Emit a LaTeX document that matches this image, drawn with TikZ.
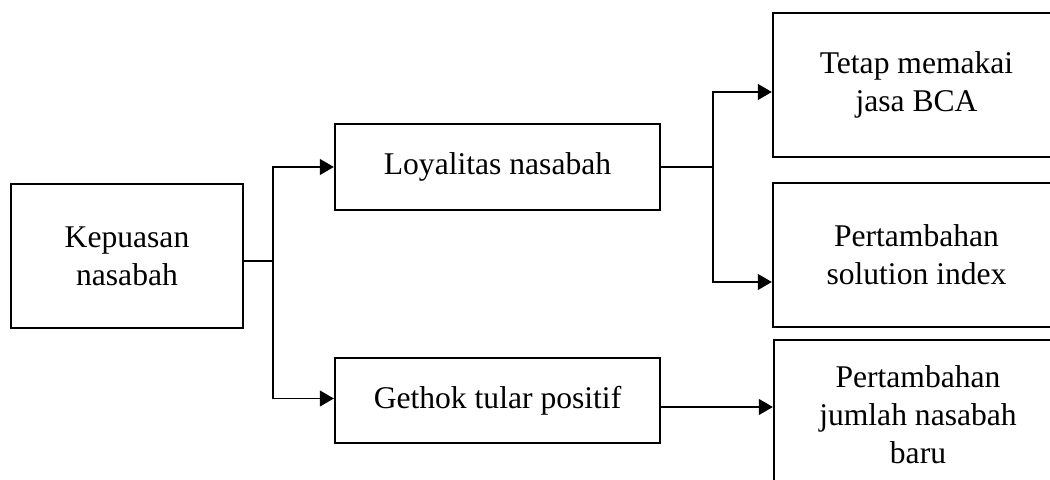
\documentclass[tikz,border=0pt]{standalone}
\usepackage{fontspec}
\setmainfont{Liberation Serif}
\usetikzlibrary{arrows.meta}
\begin{document}
\begin{tikzpicture}[x=0.5pt, y=-0.5pt,
    box/.style={draw, line width=1.2pt, align=center, inner sep=0pt,
        font=\fontsize{15.8}{19}\selectfont},
    arr/.style={-{Triangle[length=7pt, width=8pt]}, line width=0.6pt},
    link/.style={line width=0.6pt}]
        % -------- 畫面大小 --------
        \path[use as bounding box, clip] (0,0) rectangle (1050,480);

        % -------- 左邊 --------
        \node[box, minimum width=116pt, minimum height=72pt] (kepuasan) at (127,256) {Kepuasan\\nasabah};

        % -------- 中間 --------
        \node[box, minimum width=162.5pt, minimum height=43pt] (loyalitas) at (497.5,167) {Loyalitas nasabah};
        \node[box, minimum width=162.5pt, minimum height=42.5pt] (gethok) at (497.5,400.5) {Gethok tular positif};

        % -------- 右邊 (超出畫面) --------
        \node[box, minimum width=143.5pt, minimum height=72pt] (tetap) at (916.5,85) {Tetap memakai\\jasa BCA};
        \node[box, minimum width=143.5pt, minimum height=72pt] (solusi) at (916.5,255) {Pertambahan\\solution index};
        \node[box, minimum width=144pt, minimum height=75pt] (jumlah) at (918,415) {Pertambahan\\jumlah nasabah\\baru};

        % 分岔點
        \coordinate (split1) at (273,261);
        \coordinate (split2) at (713,167);

        % Kepuasan -> Loyalitas / Gethok
        \draw[link] ([yshift=-2.5pt]kepuasan.east) -- (split1);
        \draw[arr] (split1) |- (loyalitas.west);
        \draw[arr] (split1) |- ([yshift=1pt]gethok.west);

        % Loyalitas -> Tetap / Solusi
        \draw[link] (loyalitas.east) -- (split2);
        \draw[arr] (split2) |- ([yshift=-3.5pt]tetap.west);
        \draw[arr] (split2) |- ([yshift=-13.5pt]solusi.west);

        % Gethok -> Jumlah
        \draw[arr] ([yshift=-3.25pt]gethok.east) -- ([yshift=-3.25pt]gethok.east -| jumlah.west);
\end{tikzpicture}
\end{document}
